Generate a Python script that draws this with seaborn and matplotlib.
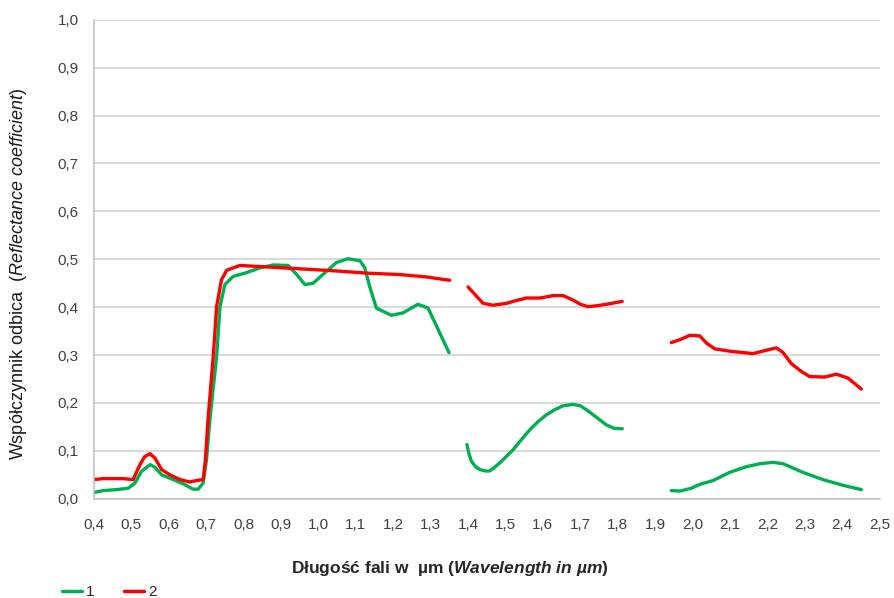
import matplotlib
matplotlib.use("Agg")
import matplotlib.pyplot as plt
import seaborn as sns
import pandas as pd
from matplotlib.lines import Line2D

# Series 1 (green) - three segments
s1_seg1_x = [0.400, 0.425, 0.461, 0.492, 0.510, 0.527, 0.550, 0.563, 0.581, 0.612, 0.639, 0.665, 0.679, 0.692, 0.701,
             0.710, 0.728, 0.737, 0.750, 0.772, 0.808, 0.844, 0.879, 0.919, 0.942, 0.964, 0.986, 1.022, 1.048,
             1.079, 1.111, 1.124, 1.137, 1.155, 1.195, 1.226, 1.266, 1.293, 1.316, 1.349]
s1_seg1_y = [0.013, 0.017, 0.019, 0.022, 0.033, 0.057, 0.071, 0.066, 0.050, 0.040, 0.031, 0.020, 0.020, 0.033, 0.081,
             0.165, 0.297, 0.401, 0.447, 0.464, 0.472, 0.482, 0.488, 0.487, 0.468, 0.447, 0.450, 0.475, 0.493,
             0.501, 0.497, 0.482, 0.443, 0.398, 0.383, 0.388, 0.406, 0.398, 0.360, 0.305]
s1_seg2_x = [1.397, 1.403, 1.409, 1.420, 1.431, 1.445, 1.458, 1.470, 1.485, 1.502, 1.520, 1.542, 1.565, 1.587, 1.609,
             1.632, 1.654, 1.680, 1.700, 1.716, 1.743, 1.770, 1.790, 1.812]
s1_seg2_y = [0.113, 0.092, 0.078, 0.067, 0.061, 0.058, 0.058, 0.065, 0.075, 0.088, 0.102, 0.123, 0.144, 0.161, 0.175,
             0.186, 0.194, 0.197, 0.194, 0.186, 0.170, 0.154, 0.147, 0.146]
s1_seg3_x = [1.943, 1.966, 1.997, 2.019, 2.055, 2.099, 2.144, 2.179, 2.215, 2.242, 2.295, 2.348, 2.402, 2.451]
s1_seg3_y = [0.017, 0.016, 0.022, 0.030, 0.038, 0.055, 0.067, 0.073, 0.076, 0.073, 0.055, 0.040, 0.028, 0.019]

# Series 2 (red) - three segments
s2_seg1_x = [0.400, 0.425, 0.478, 0.505, 0.523, 0.536, 0.550, 0.563, 0.581, 0.603, 0.630, 0.656, 0.674, 0.692, 0.698,
             0.705, 0.719, 0.728, 0.741, 0.755, 0.790, 0.861, 0.950, 1.039, 1.129, 1.218, 1.289, 1.351]
s2_seg1_y = [0.040, 0.042, 0.042, 0.040, 0.071, 0.088, 0.094, 0.085, 0.061, 0.050, 0.040, 0.035, 0.038, 0.040, 0.081,
             0.165, 0.297, 0.401, 0.457, 0.477, 0.487, 0.484, 0.480, 0.476, 0.471, 0.468, 0.463, 0.456]
s2_seg2_x = [1.400, 1.420, 1.440, 1.467, 1.503, 1.530, 1.556, 1.592, 1.627, 1.654, 1.680, 1.700, 1.720, 1.745, 1.770,
             1.812]
s2_seg2_y = [0.442, 0.425, 0.408, 0.404, 0.408, 0.414, 0.419, 0.419, 0.424, 0.424, 0.415, 0.406, 0.401, 0.403, 0.406,
             0.412]
s2_seg3_x = [1.943, 1.966, 1.992, 2.019, 2.037, 2.059, 2.099, 2.161, 2.197, 2.224, 2.242, 2.264, 2.290, 2.313, 2.353,
             2.384, 2.415, 2.451]
s2_seg3_y = [0.326, 0.332, 0.341, 0.340, 0.325, 0.313, 0.308, 0.303, 0.310, 0.315, 0.305, 0.282, 0.266, 0.255, 0.254,
             0.260, 0.252, 0.229]

series_names = ["1", "2"]
x_ticks = [0.4, 0.5, 0.6, 0.7, 0.8, 0.9, 1.0, 1.1, 1.2, 1.3, 1.4, 1.5, 1.6, 1.7, 1.8, 1.9, 2.0, 2.1, 2.2, 2.3, 2.4, 2.5]
y_ticks = [0.0, 0.1, 0.2, 0.3, 0.4, 0.5, 0.6, 0.7, 0.8, 0.9, 1.0]

rows = []
for name, segs in [("1", [(s1_seg1_x, s1_seg1_y), (s1_seg2_x, s1_seg2_y), (s1_seg3_x, s1_seg3_y)]),
                   ("2", [(s2_seg1_x, s2_seg1_y), (s2_seg2_x, s2_seg2_y), (s2_seg3_x, s2_seg3_y)])]:
    for k, (xs, ys) in enumerate(segs):
        for xv, yv in zip(xs, ys):
            rows.append({"wl": xv, "refl": yv, "series": name, "seg": k})
df = pd.DataFrame(rows)

sns.set_style("white")
plt.rcParams['font.family'] = ['Liberation Sans', 'DejaVu Sans']
plt.rcParams['mathtext.fontset'] = 'custom'
plt.rcParams['mathtext.it'] = 'Liberation Sans:italic'
plt.rcParams['mathtext.rm'] = 'Liberation Sans'
plt.rcParams['mathtext.bf'] = 'Liberation Sans:bold'
plt.rcParams['mathtext.bfit'] = 'Liberation Sans:bold:italic'

fig = plt.figure(figsize=(8.94, 5.98), dpi=100)
ax = fig.add_axes([0.105, 0.166, 0.879, 0.801])

palette = {"1": "#00b050", "2": "#ff0000"}
sns.lineplot(data=df, x="wl", y="refl", hue="series", units="seg", estimator=None,
             palette=palette, linewidth=2.4, ax=ax, sort=False, legend=False)
for ln in ax.get_lines():
    ln.set_solid_joinstyle("round")
    ln.set_solid_capstyle("round")

ax.set_xlim(0.4, 2.5)
ax.set_ylim(0.0, 1.0)
ax.set_xticks(x_ticks)
ax.set_xticklabels([f"{t:.1f}".replace(".", ",") for t in x_ticks], fontsize=11, color="#404040")
ax.set_yticks(y_ticks)
ax.set_yticklabels([f"{t:.1f}".replace(".", ",") for t in y_ticks], fontsize=11, color="#404040")
ax.yaxis.grid(True, color="#d0d0d0", linewidth=1.1)
ax.xaxis.grid(False)
ax.set_axisbelow(True)
for s in ["top", "right"]:
    ax.spines[s].set_visible(False)
for s in ["left", "bottom"]:
    ax.spines[s].set_color("#bfbfbf")
    ax.spines[s].set_linewidth(1.1)
ax.tick_params(axis="both", which="both", direction="out", length=6, color="#bfbfbf", width=1.1, pad=5)
ax.tick_params(axis="x", pad=8)

ax.set_xlabel(r"Długość fali w  µm ($\mathbfit{Wavelength\ in\ µm}$)", fontsize=12.5, fontweight="bold",
              color="#262626")
ax.xaxis.set_label_coords(0.453, -0.125)
ax.set_ylabel(r"Współczynnik odbica  ($\it{Reflectance\ coefficient}$)", fontsize=13,
              color="#1a1a1a")
ax.yaxis.set_label_coords(-0.082, 0.47)

handles = [Line2D([0], [0], color=palette[n], linewidth=2.5) for n in series_names]
fig.legend(handles, series_names, loc="center left", bbox_to_anchor=(0.069, 0.01), ncol=2, frameon=False,
           borderpad=0, borderaxespad=0, handlelength=1.35, handletextpad=0.25, columnspacing=1.9,
           fontsize=11)

fig.savefig("out.png", dpi=100)
